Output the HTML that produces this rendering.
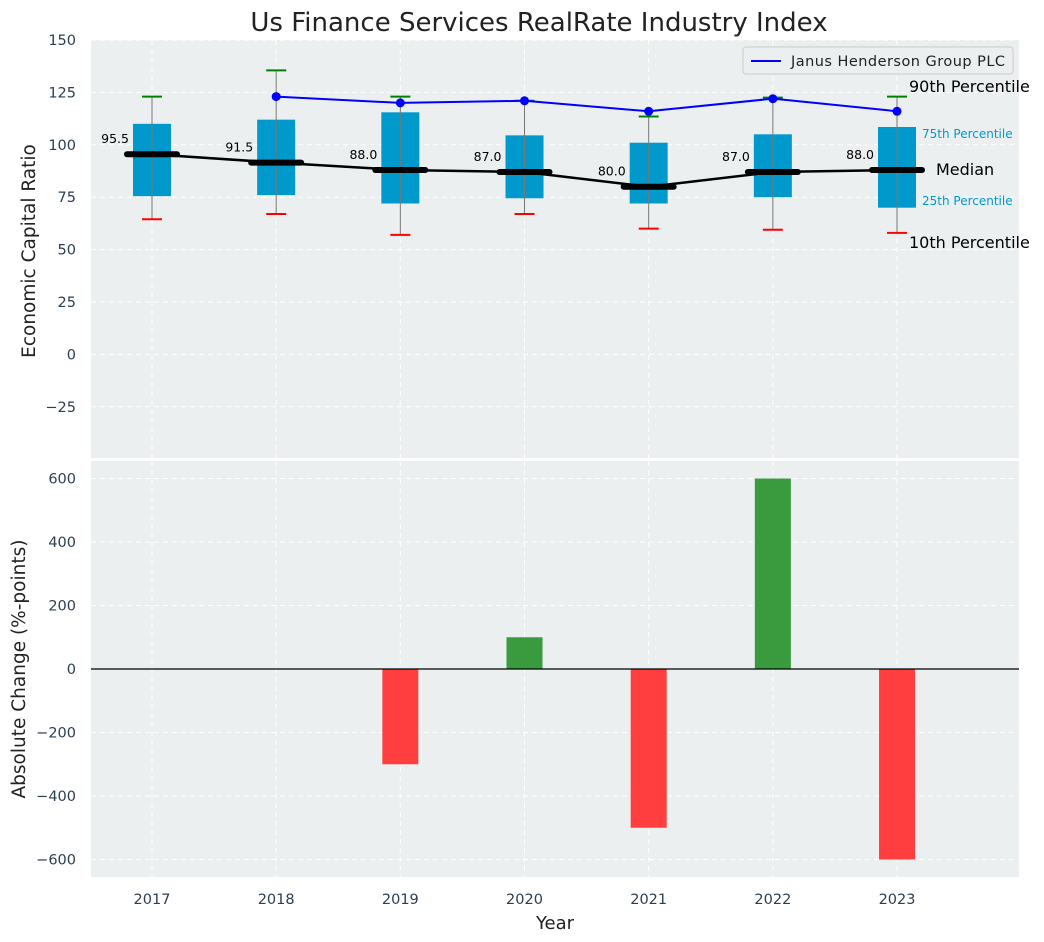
<!DOCTYPE html>
<html><head><meta charset="utf-8"><style>
html,body{margin:0;padding:0;background:#fff;}
svg{display:block;font-family:"DejaVu Sans","Liberation Sans",sans-serif;}
</style></head><body>
<svg id="chart" width="1044" height="942" xmlns="http://www.w3.org/2000/svg">
<text x="539" y="31" text-anchor="middle" font-size="26" fill="#222">Us Finance Services RealRate Industry Index</text>
<rect x="91" y="40" width="928" height="418" fill="#ebeff0"/>
<rect x="91" y="461" width="928" height="416" fill="#ebeff0"/>
<g id="topg"></g><g id="botg"></g>
<text transform="translate(35,251) rotate(-90)" text-anchor="middle" font-size="18.5" fill="#222">Economic Capital Ratio</text>
<text transform="translate(25,669) rotate(-90)" text-anchor="middle" font-size="18.5" fill="#222">Absolute Change (%-points)</text>
<text x="555" y="929" text-anchor="middle" font-size="18" fill="#222">Year</text>
<g>
<rect x="743" y="47" width="270" height="27" rx="3" fill="#ebeff0" stroke="#ccc"/>
<line x1="751" y1="61" x2="781" y2="61" stroke="#0000ff" stroke-width="2"/>
<text x="791" y="66" font-size="14.5" fill="#222" textLength="214">Janus Henderson Group PLC</text>
</g>
<text x="909" y="92" font-size="16" fill="#000">90th Percentile</text>
<text x="922" y="138" font-size="12" fill="#0099cc">75th Percentile</text>
<text x="936" y="175" font-size="16" fill="#000">Median</text>
<text x="922" y="205" font-size="12" fill="#0099cc">25th Percentile</text>
<text x="909" y="248" font-size="16" fill="#000">10th Percentile</text>
</svg>
<script>
const years=[2017,2018,2019,2020,2021,2022,2023];
const p10=[64.5,67,57,67,60,59.5,58];
const q1=[75.5,76,72,74.5,72,75,70];
const med=[95.5,91.5,88,87,80,87,88];
const q3=[110,112,115.5,104.5,101,105,108.5];
const p90=[123,135.5,123,121,113.5,122.5,123];
const companyYears=[2018,2019,2020,2021,2022,2023];
const company=[123,120,121,116,122,116];
const changeYears=[2017,2018,2019,2020,2021,2022,2023];
const changes=[0,0,-300,100,-500,600,-600];
const topTicks=[-25,0,25,50,75,100,125,150];
const botTicks=[-600,-400,-200,0,200,400,600];

const NS="http://www.w3.org/2000/svg";
const X=v=>152+(v-2017)*124.17;
const YT=v=>40+(150-v)*2.096;
const YB=v=>669-v*0.3175;
function mk(p,tag,a){const e=document.createElementNS(NS,tag);for(const k in a)e.setAttribute(k,a[k]);p.appendChild(e);return e;}
const tg=document.getElementById('topg'),bg=document.getElementById('botg');
topTicks.forEach(t=>{
 const l=mk(tg,'line',{x1:91,x2:1019,y1:YT(t),y2:YT(t),stroke:'#fff','stroke-dasharray':'5,4','stroke-width':1});
 
 
 const tx=mk(tg,'text',{x:76,y:YT(t)+5,'text-anchor':'end','font-size':14.5,fill:'#2d3e50'});
 tx.textContent=t<0?'\u2212'+(-t):t;
 
 
});
botTicks.forEach(t=>{
 const l=mk(bg,'line',{x1:91,x2:1019,y1:YB(t),y2:YB(t),stroke:'#fff','stroke-dasharray':'5,4','stroke-width':1});
 
 
 const tx=mk(bg,'text',{x:76,y:YB(t)+5,'text-anchor':'end','font-size':14.5,fill:'#2d3e50'});
 tx.textContent=t<0?'\u2212'+(-t):t;
 
 
});
years.forEach(y=>{
 [[40,458],[461,877]].forEach(r=>{
  const l=mk(tg,'line',{x1:X(y),x2:X(y),y1:r[0],y2:r[1],stroke:'#fff','stroke-dasharray':'5,4','stroke-width':1});
  
  
 });
 const tx=mk(bg,'text',{x:X(y),y:904,'text-anchor':'middle','font-size':14.5,fill:'#2d3e50'});
 tx.textContent=y;
 
 
});
years.forEach((y,i)=>{
 const x=X(y);
 const b=mk(tg,'rect',{x:x-19,y:YT(q3[i]),width:38,height:YT(q1[i])-YT(q3[i]),fill:'#0099cc'});
 
 
 const w=mk(tg,'line',{x1:x,x2:x,y1:YT(p90[i]),y2:YT(p10[i]),stroke:'#777','stroke-width':1});
 
 
 const c1=mk(tg,'line',{x1:x-10,x2:x+10,y1:YT(p90[i]),y2:YT(p90[i]),stroke:'#008000','stroke-width':2});
 
 
 const c2=mk(tg,'line',{x1:x-10,x2:x+10,y1:YT(p10[i]),y2:YT(p10[i]),stroke:'#ff0000','stroke-width':2});
 
 
});
const ml=mk(tg,'polyline',{points:years.map((y,i)=>X(y)+','+YT(med[i])).join(' '),fill:'none',stroke:'#000','stroke-width':2.5});


years.forEach((y,i)=>{
 const x=X(y);
 const m=mk(tg,'line',{x1:x-25,x2:x+25,y1:YT(med[i]),y2:YT(med[i]),stroke:'#000','stroke-width':6,'stroke-linecap':'round'});
 
 
 const t=mk(tg,'text',{x:x-23,y:YT(med[i])-11,'text-anchor':'end','font-size':12.5,fill:'#000'});
 t.textContent=med[i].toFixed(1);
 
 
});
const cl=mk(tg,'polyline',{points:companyYears.map((y,i)=>X(y)+','+YT(company[i])).join(' '),fill:'none',stroke:'#0000ff','stroke-width':2});


companyYears.forEach((y,i)=>{
 const d=mk(tg,'circle',{cx:X(y),cy:YT(company[i]),r:4.5,fill:'#0000ff'});
 
 
});
changeYears.forEach((y,i)=>{
 const v=changes[i]; if(v===0) return;
 const y0=Math.min(YB(0),YB(v)),h=Math.abs(YB(v)-YB(0));
 const r=mk(bg,'rect',{x:X(y)-18,y:y0,width:36,height:h,fill:v>0?'#3a9b3e':'#ff3f3f'});
 
 
});
const z=mk(bg,'line',{x1:91,x2:1019,y1:YB(0),y2:YB(0),stroke:'#000','stroke-width':1.2});


</script>
</body></html>
